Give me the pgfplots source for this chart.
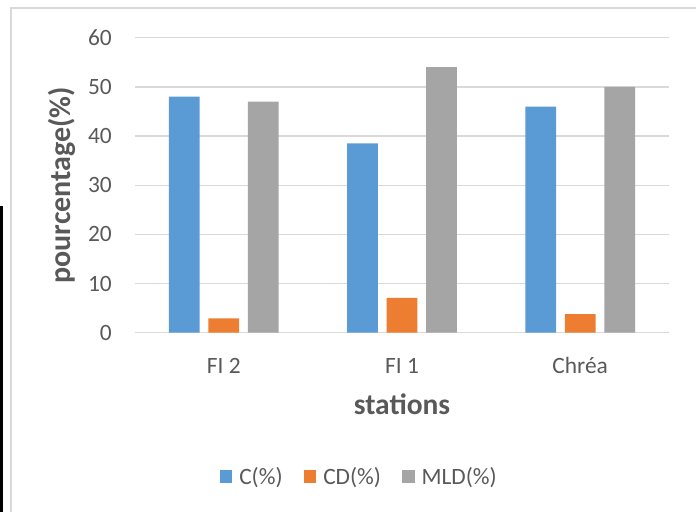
\documentclass[border=0pt]{standalone}
\usepackage{pgfplots}
\pgfplotsset{compat=1.18}
\usepackage{fontspec}
\setmainfont{Carlito}

\definecolor{cBlue}{HTML}{5B9BD5}
\definecolor{cOrange}{HTML}{ED7D31}
\definecolor{cGray}{HTML}{A5A5A5}
\definecolor{txt}{HTML}{595959}
\definecolor{gridc}{HTML}{D9D9D9}

\begin{document}
\begin{tikzpicture}[x=1pt,y=1pt]
\useasboundingbox (0,0) rectangle (696,512);
% chart area frame
\draw[gridc, line width=1.3pt] (11,0) -- (11,504) -- (696,504);
\draw[black, line width=2.7pt] (1.35,0) -- (1.35,305.5);
\begin{axis}[
  at={(134.7pt,179.3pt)}, anchor=south west,
  scale only axis, width=534.6pt, height=295pt,
  xmin=-0.5, xmax=2.5, ymin=0, ymax=60,
  ytick={0,10,...,60},
  xtick={0,1,2}, xticklabels={FI 2, FI 1, Chréa},
  axis line style={draw=none},
  major tick length=0pt,
  ymajorgrids,
  major grid style={gridc, line width=1.3pt},
  /pgf/number format/assume math mode=true,
  tick label style={text=txt, font=\fontsize{23.4}{28}\selectfont, inner sep=0pt},
  yticklabel style={anchor=east, xshift=-22.7pt},
  xticklabel style={anchor=base, yshift=-40.8pt},
  ylabel={pourcentage(\%)},
  ylabel style={at={(axis description cs:-0.1365,0.5)}, anchor=center, rotate=0,
    text=txt, font=\fontsize{30}{35}\selectfont\bfseries, inner sep=0pt},
  xlabel={stations},
  xlabel style={at={(axis description cs:0.5,-0.242)}, anchor=center,
    text=txt, font=\fontsize{29.5}{35}\selectfont\bfseries, inner sep=0pt},
  ybar, bar width=30.7pt,
  legend columns=3,
  legend style={at={(axis description cs:0.42,-0.489)}, anchor=center,
    draw=none, fill=none, text=txt, font=\fontsize{23.4}{28}\selectfont,
    inner sep=0pt,
    /tikz/every odd column/.append style={column sep=5pt},
    /tikz/every even column/.append style={column sep=19pt}},
  legend image code/.code={\fill[#1] (0pt,-5.7pt) rectangle (12.6pt,6.9pt);},
]
\addplot[fill=cBlue, draw=none, bar shift=-39.5pt]
  coordinates {(0,48) (1,38.5) (2,46)};
\addplot[fill=cOrange, draw=none, bar shift=0pt]
  coordinates {(0,2.9) (1,7.1) (2,3.8)};
\addplot[fill=cGray, draw=none, bar shift=39.5pt]
  coordinates {(0,47) (1,54) (2,50)};
\legend{C(\%), CD(\%), MLD(\%)}
\end{axis}
\end{tikzpicture}
\end{document}
